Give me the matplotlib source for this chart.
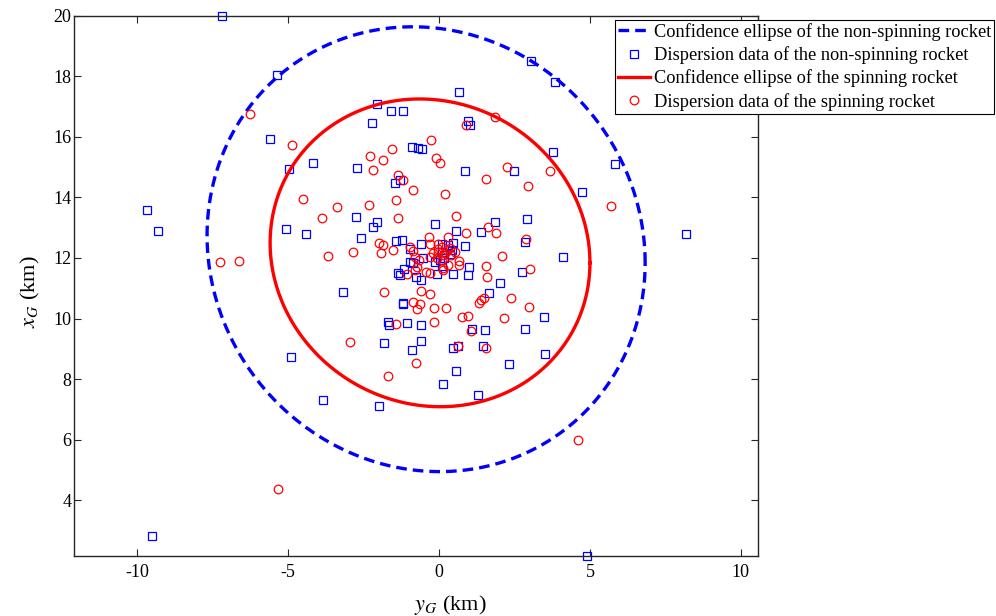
import numpy as np
import matplotlib
matplotlib.use('Agg')
import matplotlib.pyplot as plt

plt.rcParams['font.family'] = ['Liberation Serif', 'DejaVu Serif']
plt.rcParams['mathtext.fontset'] = 'stix'
plt.rcParams['axes.unicode_minus'] = False

# dispersion data of the non-spinning rocket (y_G, x_G) in km
blue_y = [-7.18, -5.36, -5.60, -4.96, -4.17, -2.73, -2.07, -1.60, -2.21, -1.46,
          -1.29, -1.18, 0.66, 0.97, 1.03, 3.04, 3.84, 3.79, 5.83, -0.90,
          -0.69, -0.57, 0.86, 2.49, 4.75, -9.67, -9.30, -5.08, -4.42, -2.76,
          -2.59, -2.18, -2.07, -1.43, -1.35, -3.19, -1.70, -1.66, -1.82, -4.92,
          -9.52, -3.84, -1.98, 0.12, 0.57, 1.29, 2.32, 4.89, 8.18, 4.12,
          2.92, 1.85, 1.38, 2.84, 2.74, 2.02, 1.66, 3.48, 2.84, 3.51,
          1.52, 1.08, 1.47, 0.45, 0.64, -0.90, -0.60, -1.07, -0.61, -1.20,
          -1.18, 0.98, 0.95, 0.45, -0.08, -0.60, -0.76, -1.29, -1.15, -0.13,
          0.55, 0.85, -1.22, -0.60, -0.96, -0.52, -0.98, -0.13, 0.45, 0.09,
          0.03, 0.10, 0.35, 0.15, 0.10, 0.31, 0.42, -0.85]
blue_x = [20.00, 18.04, 15.94, 14.93, 15.15, 14.96, 17.08, 16.84, 16.47, 14.47,
          14.58, 16.86, 17.48, 16.53, 16.39, 18.51, 17.82, 15.51, 15.09, 15.68,
          15.64, 15.61, 14.88, 14.88, 14.19, 13.58, 12.89, 12.96, 12.80, 13.34,
          12.66, 13.03, 13.20, 12.57, 11.50, 10.89, 9.90, 9.79, 9.19, 8.74,
          2.83, 7.32, 7.12, 7.83, 8.28, 7.47, 8.49, 2.16, 12.78, 12.02,
          13.30, 13.19, 12.85, 12.52, 11.55, 11.17, 10.86, 10.05, 9.66, 8.84,
          9.61, 9.66, 9.11, 9.04, 9.10, 8.96, 9.26, 9.86, 9.79, 10.52,
          10.47, 11.71, 11.45, 11.46, 11.46, 11.27, 11.38, 11.44, 11.63, 13.12,
          12.89, 12.40, 12.60, 12.47, 12.31, 12.01, 11.86, 11.88, 12.49, 12.45,
          11.93, 12.21, 12.13, 11.99, 11.73, 12.43, 12.26, 11.84]

# dispersion data of the spinning rocket
red_y = [-6.26, -4.86, -4.50, -2.30, -2.19, -1.87, -1.56, -1.35, 1.86, 0.89,
         -0.28, -0.10, 0.03, 2.24, 3.68, 1.56, 2.96, -1.20, -0.87, 0.20,
         -1.43, -3.87, -3.38, -2.32, -1.35, -1.98, -1.87, -1.92, -1.53, -2.84,
         -3.69, -7.26, -6.63, -1.82, -1.43, -2.94, -1.68, -5.34, -0.77, 4.62,
         5.69, 3.02, 2.07, 1.56, 1.58, 2.38, 2.97, 1.39, 1.33, 1.49,
         2.14, 0.95, 0.77, 1.06, 1.55, 0.23, -0.17, -0.17, -0.72, -0.63,
         -0.85, -0.30, -0.61, 0.56, 0.89, 1.63, 1.88, 2.87, -1.05, -0.32,
         -0.30, 0.28, -0.87, 0.66, 0.66, 0.28, -0.44, -0.30, -0.80, -0.72,
         -0.65, -0.80, -0.19, -0.02, 0.14, 0.26, 0.36, 0.53, 0.09, -0.08,
         -0.30, 0.14, -0.02, -0.96, 0.64, 0.14, 0.10, 0.20, -0.05, 0.40]
red_x = [16.74, 15.72, 13.94, 15.38, 14.91, 15.25, 15.60, 14.74, 16.67, 16.39,
         15.90, 15.29, 15.13, 15.00, 14.87, 14.61, 14.38, 14.58, 14.25, 14.10,
         13.90, 13.32, 13.68, 13.75, 13.31, 12.49, 12.43, 12.16, 12.26, 12.21,
         12.07, 11.88, 11.90, 10.87, 9.81, 9.23, 8.11, 4.37, 8.54, 5.99,
         13.71, 11.63, 12.08, 11.74, 11.36, 10.69, 10.37, 10.61, 10.52, 10.67,
         10.01, 10.10, 10.06, 9.59, 9.04, 10.36, 10.34, 9.88, 10.32, 10.47,
         10.56, 10.80, 10.91, 13.37, 12.82, 13.01, 12.82, 12.62, 11.46, 12.68,
         12.46, 12.68, 12.24, 11.91, 11.77, 11.77, 11.55, 11.50, 11.61, 11.71,
         11.93, 12.04, 12.16, 12.21, 12.10, 12.27, 12.32, 12.21, 11.93, 11.99,
         12.04, 11.66, 12.47, 12.37, 9.11, 11.61, 12.35, 12.18, 12.30, 12.10]

# confidence ellipses: centre (y, x) and lower-triangular shape matrix
blue_center = (-0.43, 12.29)
blue_shape = [[7.26, 0.0], [-0.45, 7.33]]
red_center = (-0.30, 12.17)
red_shape = [[5.30, 0.0], [-0.33, 5.07]]

labels = ['Confidence ellipse of the non-spinning rocket',
          'Dispersion data of the non-spinning rocket',
          'Confidence ellipse of the spinning rocket',
          'Dispersion data of the spinning rocket']


def ellipse(center, shape, n=200):
    t = np.linspace(0, 2 * np.pi, n)
    L = np.array(shape)
    pts = L @ np.vstack([np.cos(t), np.sin(t)])
    return center[0] + pts[0], center[1] + pts[1]


fig = plt.figure(figsize=(9.96, 6.16), dpi=100)
ax = fig.add_axes([74 / 996, 1 - 556 / 616, 684 / 996, 540.3 / 616])

ex, ey = ellipse(blue_center, blue_shape)
l1, = ax.plot(ex, ey, color='#0000ff', lw=2.4, dashes=(3.2, 1.8))
l2, = ax.plot(blue_y, blue_x, 's', ms=5.3, mfc='none', mec='#0000ff', mew=0.9,
              clip_on=False)
ex, ey = ellipse(red_center, red_shape)
l3, = ax.plot(ex, ey, color='#ff0000', lw=2.4)
l4, = ax.plot(red_y, red_x, 'o', ms=6.2, mfc='none', mec='#ff0000', mew=0.9,
              clip_on=False)

ax.set_xlim(-12.1, 10.57)
ax.set_ylim(2.16, 20)
ax.set_xticks([-10, -5, 0, 5, 10])
ax.set_yticks([4, 6, 8, 10, 12, 14, 16, 18, 20])
ax.tick_params(direction='in', length=5, width=0.8, labelsize=13,
               top=True, right=True, color='0.15')
ax.tick_params(axis='x', pad=6)
ax.tick_params(axis='y', pad=2)
for s in ax.spines.values():
    s.set_linewidth(1.0)
    s.set_color('0.15')

ax.set_xlabel(r'$y_G$ (km)', fontsize=16)
ax.set_ylabel(r'$x_G$ (km)', fontsize=16)
ax.xaxis.set_label_coords(0.55, -0.068)
ax.yaxis.set_label_coords(-0.047, 0.49)

leg = fig.legend([l1, l2, l3, l4], labels, loc='upper left',
                 bbox_to_anchor=(615 / 996, 1 - 20 / 616),
                 bbox_transform=fig.transFigure, fontsize=13.2,
                 frameon=True, fancybox=False, framealpha=1, edgecolor='black',
                 borderpad=0.15, labelspacing=0.3, handlelength=1.75,
                 handletextpad=0.2, numpoints=1, borderaxespad=0)
leg.get_frame().set_linewidth(0.8)

plt.savefig('out.png', dpi=100)
